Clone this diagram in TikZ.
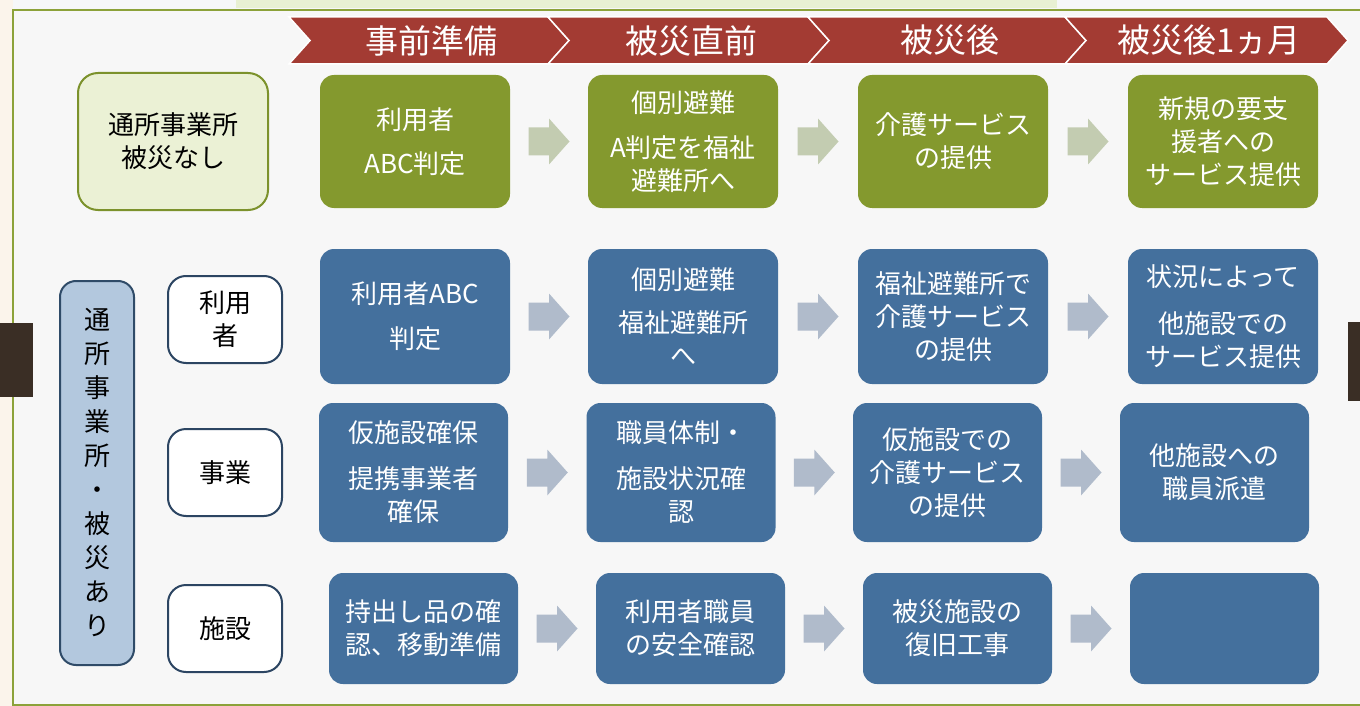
\documentclass[tikz,border=0pt]{standalone}
\usepackage{fontspec}
\setmainfont{Noto Sans CJK JP}
\usetikzlibrary{calc}
\definecolor{bgtop}{HTML}{F6F7F9}
\definecolor{bgleft}{HTML}{FBF4EB}
\definecolor{bginner}{HTML}{F7F7F7}
\definecolor{topstrip}{HTML}{E8F0D3}
\definecolor{framec}{HTML}{8CA23A}
\definecolor{tabc}{HTML}{3A2E25}
\definecolor{hdr}{HTML}{A33B33}
\definecolor{gfill}{HTML}{84992E}
\definecolor{garrow}{HTML}{C3CCB1}
\definecolor{bfill}{HTML}{44709D}
\definecolor{barrowc}{HTML}{B0BBCB}
\definecolor{lgfill}{HTML}{EBF1D5}
\definecolor{lgdraw}{HTML}{7C922C}
\definecolor{lbfill}{HTML}{B3C8DE}
\definecolor{lbdraw}{HTML}{2F4B68}
\definecolor{wdraw}{HTML}{2C4562}
\newcommand\bxf{\fontsize{26}{33}\selectfont}
\newcommand\hdf{\fontsize{33}{36}\selectfont}
\newcommand\lbf{\fontsize{26}{33}\selectfont}
\newcommand\vtf{\fontsize{26}{34}\selectfont}
\newcommand\blkarrow[3]{%
  \path ($(#2.east)!0.5!(#3.west)$) coordinate (m);
  \fill[#1] ([shift={(-20.5,-14)}]m) -- ([shift={(0,-14)}]m) -- ([shift={(0,-23)}]m)
    -- ([shift={(20.5,0)}]m) -- ([shift={(0,23)}]m) -- ([shift={(0,14)}]m)
    -- ([shift={(-20.5,14)}]m) -- cycle;}
\tikzset{
  boxbase/.style={rounded corners=14pt, inner sep=0pt, text=white, align=center, font=\bxf, minimum width=190pt},
  gbox/.style={boxbase, fill=gfill, minimum height=133pt},
  bbox/.style={boxbase, fill=bfill},
  lgbox/.style={rounded corners=20pt, fill=lgfill, draw=lgdraw, line width=2pt, inner sep=0pt, align=center, font=\lbf, minimum width=190pt, minimum height=137pt},
  lbbox/.style={rounded corners=16pt, fill=lbfill, draw=lbdraw, line width=2pt, inner sep=0pt, align=center, font=\vtf, minimum width=74pt, minimum height=384pt},
  wbox/.style={rounded corners=18pt, fill=white, draw=wdraw, line width=2pt, inner sep=0pt, align=center, font=\lbf, minimum width=114pt, minimum height=87pt},
  chev/.style={fill=hdr, draw=white, line width=1.5pt},
  hdtext/.style={text=white, font=\hdf, inner sep=0pt}
}
\begin{document}
\begin{tikzpicture}[x=1pt,y=-1pt]
\useasboundingbox (0,0) rectangle (1360,706);
% backgrounds
\fill[bgtop] (0,0) rectangle (1360,706);
\fill[bgleft] (0,0) rectangle (13,706);
\fill[topstrip] (236,0) rectangle (1057,8);
\fill[bginner] (13,10) rectangle (1360,705);
\draw[framec, line width=2pt] (1361,10) -- (13,10) -- (13,705) -- (1361,705);
\fill[tabc] (0,323) rectangle (33,397);
\fill[tabc] (1348,322) rectangle (1360,401);
% header chevrons
\foreach \L/\R/\t [count=\i] in {289/548/事前準備, 548/808/被災直前, 808/1065/被災後, 1065/1327/被災後1ヵ月}{
  \draw[chev] (\L,17) -- (\R,17) -- (\R+21,40.5) -- (\R,64) -- (\L,64) -- (\L+21,40.5) -- cycle;
  \node[hdtext] (h\i) at ({(\L+\R)/2+13},40.5) {\t};
}
% left labels
\node[lgbox] (lg) at (173,141.5) {通所事業所\\被災なし};
\node[lbbox] (lb) at (97,473) {通\\所\\事\\業\\所\\・\\被\\災\\あ\\り};
\node[wbox] (w1) at (225,319.5) {利用\\者};
\node[wbox] (w2) at (225,472.5) {事業};
\node[wbox] (w3) at (225,628.5) {施設};
% row 1
\node[gbox] (g1) at (415,141.5) {利用者\\[11pt]ABC判定};
\node[gbox] (g2) at (683,141.5) {個別避難\\[12pt]A判定を福祉\\避難所へ};
\node[gbox] (g3) at (953,141.5) {介護サービス\\の提供};
\node[gbox] (g4) at (1223,141.5) {新規の要支\\援者への\\サービス提供};
% row 2
\node[bbox, minimum height=135pt] (b1) at (415,316.5) {利用者ABC\\[12pt]判定};
\node[bbox, minimum height=135pt] (b2) at (683,316.5) {個別避難\\[10pt]福祉避難所\\へ};
\node[bbox, minimum height=135pt] (b3) at (953,316.5) {福祉避難所で\\介護サービス\\の提供};
\node[bbox, minimum height=135pt] (b4) at (1223,316.5) {状況によって\\[14pt]他施設での\\サービス提供};
% row 3
\node[bbox, minimum width=189pt, minimum height=139pt] (c1) at (413.5,472.5) {仮施設確保\\[13pt]提携事業者\\確保};
\node[bbox, minimum width=189pt, minimum height=139pt] (c2) at (681,472.5) {職員体制・\\[13pt]施設状況確\\認};
\node[bbox, minimum width=189pt, minimum height=139pt] (c3) at (947.5,472.5) {仮施設での\\介護サービス\\の提供};
\node[bbox, minimum width=189pt, minimum height=139pt] (c4) at (1214.5,472.5) {他施設への\\職員派遣};
% row 4
\node[bbox, minimum width=189pt, minimum height=111pt] (d1) at (423.5,628.5) {持出し品の確\\認、移動準備};
\node[bbox, minimum width=189pt, minimum height=111pt] (d2) at (690.5,628.5) {利用者職員\\の安全確認};
\node[bbox, minimum width=189pt, minimum height=111pt] (d3) at (957.5,628.5) {被災施設の\\復旧工事};
\node[bbox, minimum width=189pt, minimum height=111pt] (d4) at (1224.5,628.5) {};
% arrows
\blkarrow{garrow}{g1}{g2}
\blkarrow{garrow}{g2}{g3}
\blkarrow{garrow}{g3}{g4}
\blkarrow{barrowc}{b1}{b2}
\blkarrow{barrowc}{b2}{b3}
\blkarrow{barrowc}{b3}{b4}
\blkarrow{barrowc}{c1}{c2}
\blkarrow{barrowc}{c2}{c3}
\blkarrow{barrowc}{c3}{c4}
\blkarrow{barrowc}{d1}{d2}
\blkarrow{barrowc}{d2}{d3}
\blkarrow{barrowc}{d3}{d4}
\end{tikzpicture}
\end{document}
